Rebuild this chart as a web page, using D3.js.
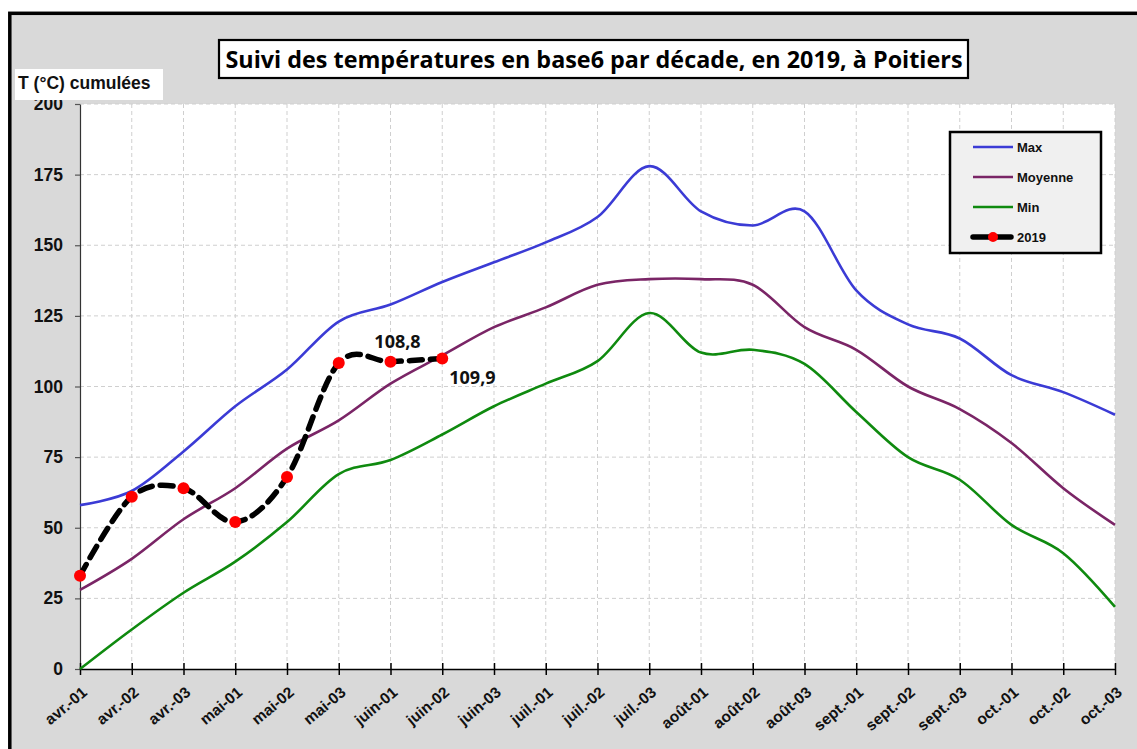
<!DOCTYPE html>
<html lang="fr">
<head>
<meta charset="UTF-8">
<title>Suivi des températures</title>
<script src="https://d3js.org/d3.v7.min.js"></script>
<style>
    body{ margin:0; background:#ffffff; }
    .grid line{ stroke:#cfcfcf; stroke-dasharray:4,3; }
</style>
</head>
<body>
<svg id="chart" width="1137" height="749"></svg>
<script>
    let decades = ["avr.-01","avr.-02","avr.-03","mai-01","mai-02","mai-03","juin-01","juin-02","juin-03",
        "juil.-01","juil.-02","juil.-03","août-01","août-02","août-03","sept.-01","sept.-02","sept.-03",
        "oct.-01","oct.-02","oct.-03"]
    let maxT = [58,63,77,93,106,123,129,137,144,151,160,178,162,157,162,134,122,117,104,98,90]
    let moyT = [28,39,53,64,78,88,101,111,121,128,136,138,138,136,121,113,100,92,80,64,51]
    let minT = [0,14,27,38,52,69,74,83,93,101,109,126,112,113,108,91,75,67,51,41,22]
    let t2019 = [33,61,64,52,68,108.3,108.8,109.9]
    let yTicks = [0,25,50,75,100,125,150,175,200]

    const ARIAL = "'Liberation Sans', Arial, sans-serif"
    const CALIB = "'Open Sans', sans-serif"

    let svg = d3.select("#chart")
    let pLeft = 80, pRight = 1115, pTop = 104, pBottom = 669

    // fond gris + cadre
    svg.append("rect").attr("x",9.8).attr("y",13.3).attr("width",1140).attr("height",750)
        .attr("fill","#d9d9d9").attr("stroke","#000").attr("stroke-width",3.5)
    svg.append("rect").attr("x",pLeft).attr("y",pTop).attr("width",pRight-pLeft).attr("height",pBottom-pTop)
        .attr("fill","#ffffff")

    let x = d3.scalePoint().domain(decades).range([pLeft,pRight])
    let y = d3.scaleLinear().domain([0,200]).range([pBottom,pTop])

    // grille
    let grid = svg.append("g").attr("class","grid")
    grid.selectAll(".gx").data(decades.slice(1)).join("line")
        .attr("x1",d=>x(d)).attr("x2",d=>x(d)).attr("y1",pTop).attr("y2",pBottom)
    grid.selectAll(".gy").data(yTicks.slice(1)).join("line")
        .attr("x1",pLeft).attr("x2",pRight).attr("y1",d=>y(d)).attr("y2",d=>y(d))

    // axe y
    let yAxis = svg.append("g").attr("transform","translate("+pLeft+",0)")
        .call(d3.axisLeft(y).tickValues(yTicks).tickSize(5).tickSizeOuter(0).tickFormat(""))
    yAxis.select(".domain").attr("stroke","#333").attr("stroke-width",1.2)
    yAxis.selectAll(".tick line").attr("stroke","#555").attr("stroke-width",1.2)
    svg.append("g").selectAll("text").data(yTicks).join("text")
        .attr("x",pLeft-17).attr("y",d=>y(d)+6).attr("text-anchor","end")
        .attr("font-family",ARIAL).attr("font-weight","bold").attr("font-size",17.5).attr("fill","#111")
        .text(d=>d)

    // axe x
    let xAxis = svg.append("g").attr("transform","translate(0,"+pBottom+")")
        .call(d3.axisBottom(x).tickSize(6).tickSizeOuter(0).tickFormat(""))
    xAxis.select(".domain").attr("stroke","#000").attr("stroke-width",1.5)
    xAxis.selectAll(".tick line").attr("y1",-6).attr("y2",6).attr("stroke","#000").attr("stroke-width",1.5)
    svg.append("g").selectAll("text").data(decades).join("text")
        .attr("text-anchor","end")
        .attr("transform",d=>"translate("+(x(d)+8)+","+(pBottom+25)+") rotate(-40)")
        .attr("font-family",ARIAL).attr("font-weight","bold").attr("font-size",15.5).attr("fill","#111")
        .text(d=>d)

    // courbes
    let curve = d3.curveCardinal.tension(0)
    let line = d3.line().x((d,i)=>x(decades[i])).y(d=>y(d)).curve(curve)
    let series = [[maxT,"#3b3bd5"],[moyT,"#7a2566"],[minT,"#0f8a0f"]]
    series.forEach(function(s){
        svg.append("path").datum(s[0]).attr("d",line)
            .attr("fill","none").attr("stroke",s[1]).attr("stroke-width",2.6)
    })
    svg.append("path").datum(t2019).attr("d",line)
        .attr("fill","none").attr("stroke","#000").attr("stroke-width",5.5)
        .attr("stroke-dasharray","13,8").attr("stroke-linecap","round")
    svg.selectAll(".pt").data(t2019).join("circle")
        .attr("cx",(d,i)=>x(decades[i])).attr("cy",d=>y(d)).attr("r",6).attr("fill","#ff0000")

    // étiquettes
    let fmt = v => String(v).replace(".",",")
    svg.append("text").attr("x",x(decades[6])+7).attr("y",y(t2019[6])-14)
        .attr("text-anchor","middle").attr("font-family",CALIB).attr("font-weight","bold")
        .attr("font-size",18).attr("fill","#111").text(fmt(t2019[6]))
    svg.append("text").attr("x",x(decades[7])+7).attr("y",y(t2019[7])+25)
        .attr("font-family",CALIB).attr("font-weight","bold")
        .attr("font-size",18).attr("fill","#111").text(fmt(t2019[7]))

    // titre
    svg.append("rect").attr("x",219).attr("y",40).attr("width",749).attr("height",38)
        .attr("fill","#fff").attr("stroke","#000").attr("stroke-width",2.2)
    svg.append("text").attr("x",594).attr("y",68).attr("text-anchor","middle")
        .attr("textLength",737).attr("lengthAdjust","spacingAndGlyphs")
        .attr("font-family",CALIB).attr("font-weight","bold").attr("font-size",22.5)
        .attr("fill","#000").text("Suivi des températures en base6 par décade, en 2019, à Poitiers")

    // titre axe y
    svg.append("rect").attr("x",15).attr("y",69).attr("width",148).attr("height",31).attr("fill","#fff")
    svg.append("text").attr("x",18).attr("y",89).attr("font-family",ARIAL).attr("font-weight","bold")
        .attr("font-size",17.5).attr("fill","#111").text("T (°C) cumulées")

    // légende
    let names = ["Max","Moyenne","Min","2019"]
    let leg = svg.append("g")
    leg.append("rect").attr("x",950).attr("y",132).attr("width",151).attr("height",121)
        .attr("fill","#f0f0f0").attr("stroke","#000").attr("stroke-width",2.5)
    names.forEach(function(n,i){
        let yy = 147 + i*30
        if(i<3){
            leg.append("line").attr("x1",973).attr("x2",1013).attr("y1",yy).attr("y2",yy)
                .attr("stroke",series[i][1]).attr("stroke-width",2.6)
        } else {
            leg.append("line").attr("x1",973).attr("x2",1011).attr("y1",yy).attr("y2",yy)
                .attr("stroke","#000").attr("stroke-width",5.5).attr("stroke-linecap","round")
            leg.append("circle").attr("cx",993).attr("cy",yy).attr("r",5).attr("fill","#ff0000")
        }
        leg.append("text").attr("x",1017).attr("y",yy+5).attr("font-family",ARIAL).attr("font-weight","bold")
            .attr("font-size",13).attr("fill","#111").text(n)
    })
</script>
</body>
</html>
